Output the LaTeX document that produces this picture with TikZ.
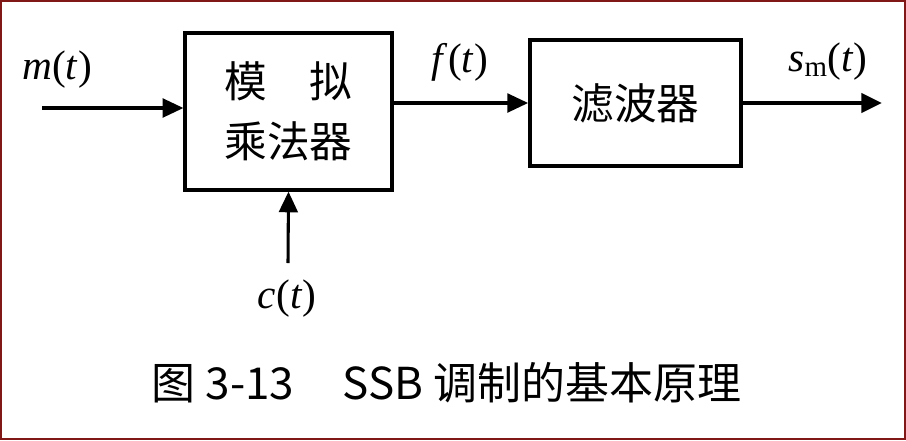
\documentclass[tikz,border=0pt]{standalone}
\usepackage{fontspec}
\setmainfont{Liberation Serif}
\newfontfamily\cjk{Noto Sans CJK SC}
\usetikzlibrary{arrows.meta}

\begin{document}
\begin{tikzpicture}[x=0.75pt,y=0.75pt,yscale=-1,xscale=1,
		blk/.style={draw, line width=2.4pt, inner sep=0pt, align=center, font=\cjk\fontsize{32}{45}\selectfont},
		sig/.style={inner sep=0pt, font=\fontsize{31}{36}\selectfont},
		wire/.style={line width=2.3pt, -{Triangle[length=15.5pt,width=14pt]}}]
		%frame of the picture
		\useasboundingbox (0,0) rectangle (906,440);
		\draw  [color={rgb, 255:red, 128; green, 24; blue, 24 }  ,line width=1.2pt ]  (1,1) rectangle (905,439) ;
		
		%blocks
		\node (mul) [blk, minimum width=155.25pt, minimum height=117.75pt] at (288.5,111.5) {模\hspace{1em}拟\\乘法器};
		\node (flt) [blk, minimum width=158.25pt, minimum height=94.5pt, line width=2.8pt] at (635.5,103) {滤波器};
		
		%ends of the open wires
		\coordinate (min) at (42,108);
		\coordinate (cin) at (288,263);
		\coordinate (sout) at (882,103);
		
		\draw [wire]  (min) -- (min -| mul.west) ;
		\draw [wire]  (flt.west -| mul.east) -- (flt.west) ;
		\draw [wire]  (cin) -- (mul.south) ;
		\draw [wire, line width=3.6pt]  (flt.east) -- (sout) ;
		
		%signal names
		\node (mt) [sig] at (57,70) {\textit{m}(\textit{t})};
		\node (ft) [sig] at (460,62) {\textit{f}(\textit{t})};
		\node (smt) [sig] at (828,62) {\textit{s}\textsubscript{m}(\textit{t})};
		\node (ct) [sig] at (287,299) {\textit{c}(\textit{t})};
		
		%caption
		\node (cap) [inner sep=0pt, font=\cjk\fontsize{33}{38}\selectfont] at (446.5,383) {图 3-13\hspace{1.1em}SSB 调制的基本原理};
		
\end{tikzpicture}
\end{document}
